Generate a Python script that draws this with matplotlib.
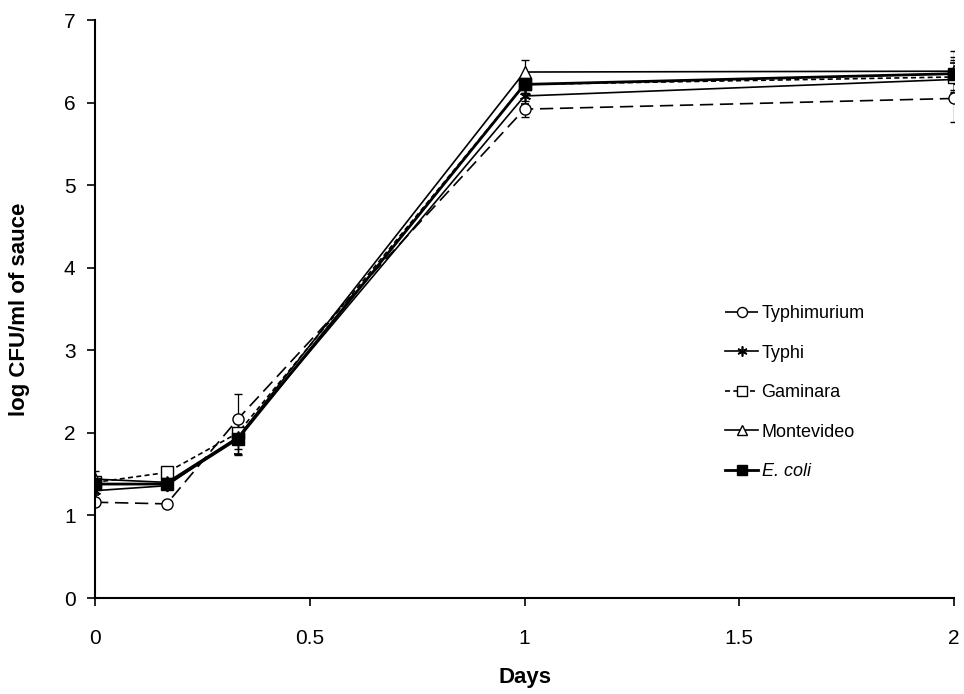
import matplotlib
matplotlib.use('Agg')
import matplotlib.pyplot as plt
import numpy as np

plt.rcParams['font.family'] = ['Liberation Sans', 'DejaVu Sans']

days = [0, 0.167, 0.333, 1, 2]

typhimurium = [1.16, 1.14, 2.17, 5.92, 6.05]
typhimurium_err = [0.05, 0.05, 0.3, 0.1, 0.28]
typhi = [1.3, 1.36, 1.95, 6.08, 6.28]
typhi_err = [0.05, 0.05, 0.2, 0.1, 0.2]
gaminara = [1.4, 1.52, 2.0, 6.22, 6.31]
gaminara_err = [0.05, 0.05, 0.2, 0.1, 0.2]
montevideo = [1.44, 1.4, 1.95, 6.37, 6.38]
montevideo_err = [0.1, 0.05, 0.2, 0.15, 0.25]
ecoli = [1.38, 1.38, 1.93, 6.22, 6.35]
ecoli_err = [0.05, 0.05, 0.2, 0.1, 0.2]

fig = plt.figure(figsize=(9.64, 6.94), dpi=100)
ax = fig.add_axes([95/964, 96/694, 859/964, 578/694])

kw = dict(color='black', ecolor='black', elinewidth=0.9, capsize=3, markersize=8)
ax.errorbar(days, typhimurium, yerr=typhimurium_err, marker='o', mfc='white',
            linestyle=(0, (8, 4)), lw=1.2, label='Typhimurium', **kw)
ax.errorbar(days, typhi, yerr=typhi_err, marker=(6, 2, 0), mew=1.2,
            linestyle='-', lw=1.2, label='Typhi', **kw)
ax.errorbar(days, gaminara, yerr=gaminara_err, marker='s', mfc='white',
            linestyle=(0, (3, 2)), lw=1.2, label='Gaminara', **kw)
ax.errorbar(days, montevideo, yerr=montevideo_err, marker='^', mfc='white',
            linestyle='-', lw=1.2, label='Montevideo', **kw)
ax.errorbar(days, ecoli, yerr=ecoli_err, marker='s', mfc='black',
            linestyle='-', lw=2.0, label='E. coli', **kw)

ax.set_xlim(0, 2)
ax.set_ylim(0, 7)
ax.set_xticks([0, 0.5, 1, 1.5, 2])
ax.set_xticklabels(['0', '0.5', '1', '1.5', '2'])
ax.set_yticks(range(8))
ax.spines['top'].set_visible(False)
ax.spines['right'].set_visible(False)
ax.spines['left'].set_linewidth(1.5)
ax.spines['bottom'].set_linewidth(1.5)
ax.tick_params(direction='out', length=6, width=1.2, labelsize=15)
ax.tick_params(axis='x', pad=16)
ax.tick_params(axis='y', pad=8)
ax.set_xlabel('Days', fontsize=16, fontweight='bold', labelpad=14)
ax.set_ylabel('log CFU/ml of sauce', fontsize=16, fontweight='bold', labelpad=24)

handles, labels = ax.get_legend_handles_labels()
handles = [h[0] for h in handles]
leg = ax.legend(handles, labels, loc='upper left', bbox_to_anchor=(0.715, 0.535),
                frameon=False, fontsize=13, handlelength=1.8, handletextpad=0.2,
                labelspacing=1.25, markerscale=0.9)
leg.get_texts()[-1].set_fontstyle('italic')

fig.savefig('out.png', dpi=100)
